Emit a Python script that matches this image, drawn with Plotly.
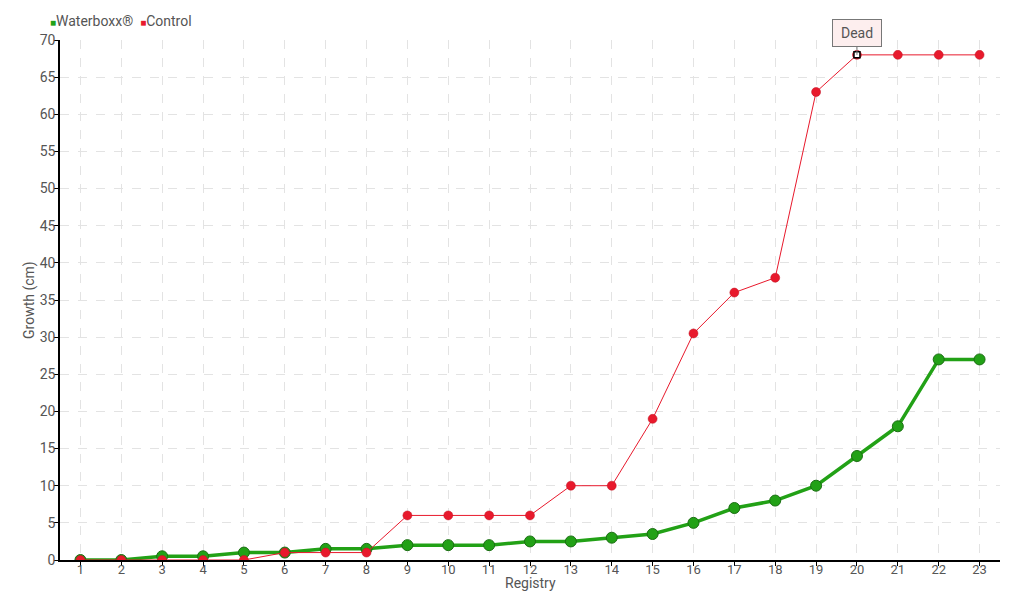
import plotly.graph_objects as go

registry = list(range(1, 24))
waterboxx = [0, 0, 0.5, 0.5, 1, 1, 1.5, 1.5, 2, 2, 2, 2.5, 2.5, 3, 3.5, 5, 7, 8, 10, 14, 18, 27, 27]
control = [0, 0, 0, 0, 0, 1, 1, 1, 6, 6, 6, 6, 10, 10, 19, 30.5, 36, 38, 63, 68, 68, 68, 68]
series_names = ["Waterboxx®", "Control"]
dead_index = 19  # registry 20
dead_label = "Dead"

GREEN = "#22a116"
RED = "#e8192c"
FONT = "Roboto, sans-serif"
TXT = "#555555"

fig = go.Figure()
fig.add_trace(go.Scatter(x=registry, y=waterboxx, mode="lines+markers", name=series_names[0], showlegend=False,
                         line=dict(color=GREEN, width=3.5),
                         marker=dict(size=11, color=GREEN, line=dict(color="#1a6e12", width=1))))
fig.add_trace(go.Scatter(x=registry, y=control, mode="lines+markers", name=series_names[1], showlegend=False,
                         line=dict(color=RED, width=1),
                         marker=dict(size=9, color=RED, line=dict(color="#c01020", width=0.5))))
fig.add_trace(go.Scatter(x=[registry[dead_index]], y=[control[dead_index]], mode="markers", showlegend=False,
                         marker=dict(symbol="square", size=6, color="white", line=dict(color="black", width=1.5))))

# compact legend
legend_text = (f"<span style='color:{GREEN};font-size:10px'>■</span>{series_names[0]}  "
               f"<span style='color:{RED};font-size:10px'>■</span>{series_names[1]}")
fig.add_annotation(xref="paper", yref="paper", x=0, y=1, xshift=-12, yshift=19,
                   xanchor="left", yanchor="middle", showarrow=False, text=legend_text,
                   font=dict(family=FONT, size=14, color=TXT))

# axis titles
fig.add_annotation(xref="paper", yref="paper", x=0.5, y=0, yshift=-23, xanchor="center", yanchor="middle",
                   showarrow=False, text="Registry", font=dict(family=FONT, size=14, color=TXT))
fig.add_annotation(xref="paper", yref="paper", x=0, y=0.5, xshift=-31, xanchor="center", yanchor="middle",
                   textangle=-90, showarrow=False, text="Growth (cm)", font=dict(family=FONT, size=14, color=TXT))

fig.add_annotation(x=registry[dead_index], y=control[dead_index], text=dead_label,
                   showarrow=True, arrowhead=0, arrowwidth=1, arrowcolor="#777777",
                   ax=0, ay=-22, bgcolor="#fdeeee", bordercolor="#777777", borderwidth=1,
                   borderpad=5, width=38, font=dict(family=FONT, size=14, color=TXT))

fig.update_layout(
    width=1004, height=584,
    margin=dict(l=52, r=12, t=32, b=32, autoexpand=False),
    plot_bgcolor="white", paper_bgcolor="white",
    font=dict(family=FONT, size=14, color=TXT),
    showlegend=False,
    xaxis=dict(range=[0.5, 23.5], tickmode="array", tickvals=registry, ticktext=[str(r) for r in registry],
               showgrid=True, gridcolor="#e3e3e3", griddash="dash", gridwidth=1,
               showline=True, linecolor="black", linewidth=1.5, ticks="outside", ticklen=4,
               tickcolor="black", zeroline=False, automargin=False, ticklabelstandoff=-7,
               tickfont=dict(size=13)),
    yaxis=dict(range=[0, 70], dtick=5, showgrid=True, gridcolor="#e3e3e3", griddash="dash", gridwidth=1,
               showline=True, linecolor="black", linewidth=1.5, ticks="outside", ticklen=4,
               tickcolor="black", zeroline=False, automargin=False, ticklabelstandoff=-4),
)

fig.write_html("out.html")
